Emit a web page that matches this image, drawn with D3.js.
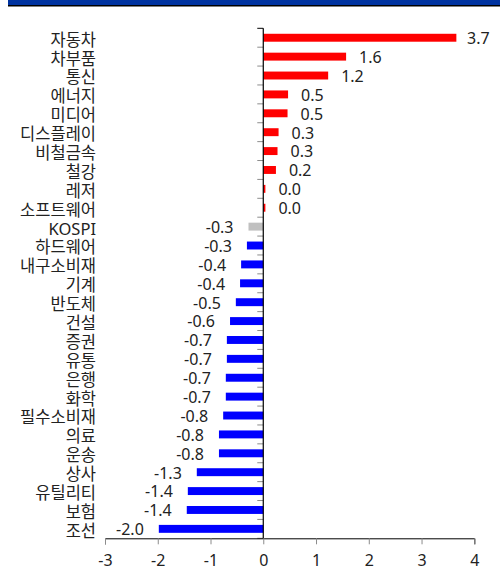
<!DOCTYPE html>
<html lang="ko">
<head>
<meta charset="UTF-8">
<script src="https://cdnjs.cloudflare.com/ajax/libs/d3/7.8.5/d3.min.js"></script>
<style>
  body { margin: 0; background: #fff; }
  svg text { font-family: "Noto Sans", "Noto Sans CJK KR", sans-serif; fill: #222; }
</style>
</head>
<body>
<script>
// sectors, top to bottom
const sectors = ["자동차", "차부품", "통신", "에너지", "미디어", "디스플레이", "비철금속", "철강", "레저",
  "소프트웨어", "KOSPI", "하드웨어", "내구소비재", "기계", "반도체", "건설", "증권", "유통", "은행",
  "화학", "필수소비재", "의료", "운송", "상사", "유틸리티", "보험", "조선"];
// returns (%)
const returns = [3.66, 1.57, 1.23, 0.47, 0.46, 0.29, 0.27, 0.24, 0.04,
  0.04, -0.28, -0.31, -0.42, -0.44, -0.52, -0.63, -0.69, -0.69, -0.71,
  -0.71, -0.76, -0.84, -0.84, -1.26, -1.43, -1.45, -1.98];
const xTicks = [-3, -2, -1, 0, 1, 2, 3, 4];

const data = sectors.map((s, i) => ({ name: s, value: returns[i] }));

const svg = d3.select("body").append("svg")
  .attr("width", 500)
  .attr("height", 580);

// header strip
svg.append("rect").attr("x", 8).attr("y", 0).attr("width", 492).attr("height", 5).attr("fill", "#0033a0");
svg.append("rect").attr("x", 8).attr("y", 5).attr("width", 492).attr("height", 1.5).attr("fill", "#000");

const x = d3.scaleLinear().domain([-3, 4]).range([105, 474.3]);
const y = d3.scaleBand().domain(sectors).range([28.3, 538.3])
  .paddingInner(0.58).paddingOuter(0.29);
const step = y.step();
// plain hyphen for negatives, like the original
const fmt = v => d3.format(".1f")(v).replace("−", "-");

// bars
svg.selectAll(".bar").data(data).enter().append("rect")
  .attr("class", "bar")
  .attr("x", d => x(Math.min(0, d.value)))
  .attr("y", d => y(d.name))
  .attr("width", d => Math.abs(x(d.value) - x(0)))
  .attr("height", y.bandwidth())
  .attr("fill", d => d.name === "KOSPI" ? "#c0c0c0" : (d.value >= 0 ? "#ff0000" : "#0000ff"));

// value labels
svg.selectAll(".val").data(data).enter().append("text")
  .attr("class", "val")
  .attr("x", d => d.value >= 0 ? Math.min(x(d.value) + 13, 467) : x(d.value) - 15)
  .attr("y", d => y(d.name) + y.bandwidth() / 2)
  .attr("dy", "0.4em")
  .attr("text-anchor", d => d.value >= 0 ? "start" : "end")
  .style("font-size", "16px")
  .text(d => fmt(d.value));

// category labels
svg.selectAll(".cat").data(data).enter().append("text")
  .attr("class", "cat")
  .attr("x", 96)
  .attr("y", d => y(d.name) + y.bandwidth() / 2)
  .attr("dy", "0.48em")
  .attr("text-anchor", "end")
  .style("font-size", "16.5px")
  .text(d => d.name);

// y axis ticks at band boundaries
const y0 = y.range()[0];
svg.selectAll(".ytick").data(d3.range(sectors.length + 1)).enter().append("line")
  .attr("x1", x(0) - 6).attr("x2", x(0))
  .attr("y1", i => y0 + i * step).attr("y2", i => y0 + i * step)
  .attr("stroke", i => i === 0 ? "#000" : "#8c8c8c")
  .attr("stroke-width", 1);

// x axis
const xAxis = svg.append("g")
  .attr("transform", "translate(0," + y.range()[1] + ")")
  .call(d3.axisBottom(x).tickValues(xTicks).tickSize(6).tickPadding(10).tickFormat(d => String(d)));
xAxis.select(".domain").attr("stroke", "#000");
xAxis.selectAll(".tick line").attr("stroke", "#8c8c8c");
xAxis.selectAll(".tick text").style("font-size", "16px").attr("fill", "#222")
  .style("font-family", "'Noto Sans', sans-serif");

// y axis line
svg.append("line")
  .attr("x1", x(0)).attr("x2", x(0))
  .attr("y1", y.range()[0]).attr("y2", y.range()[1])
  .attr("stroke", "#000").attr("stroke-width", 1.2);
</script>
</body>
</html>
